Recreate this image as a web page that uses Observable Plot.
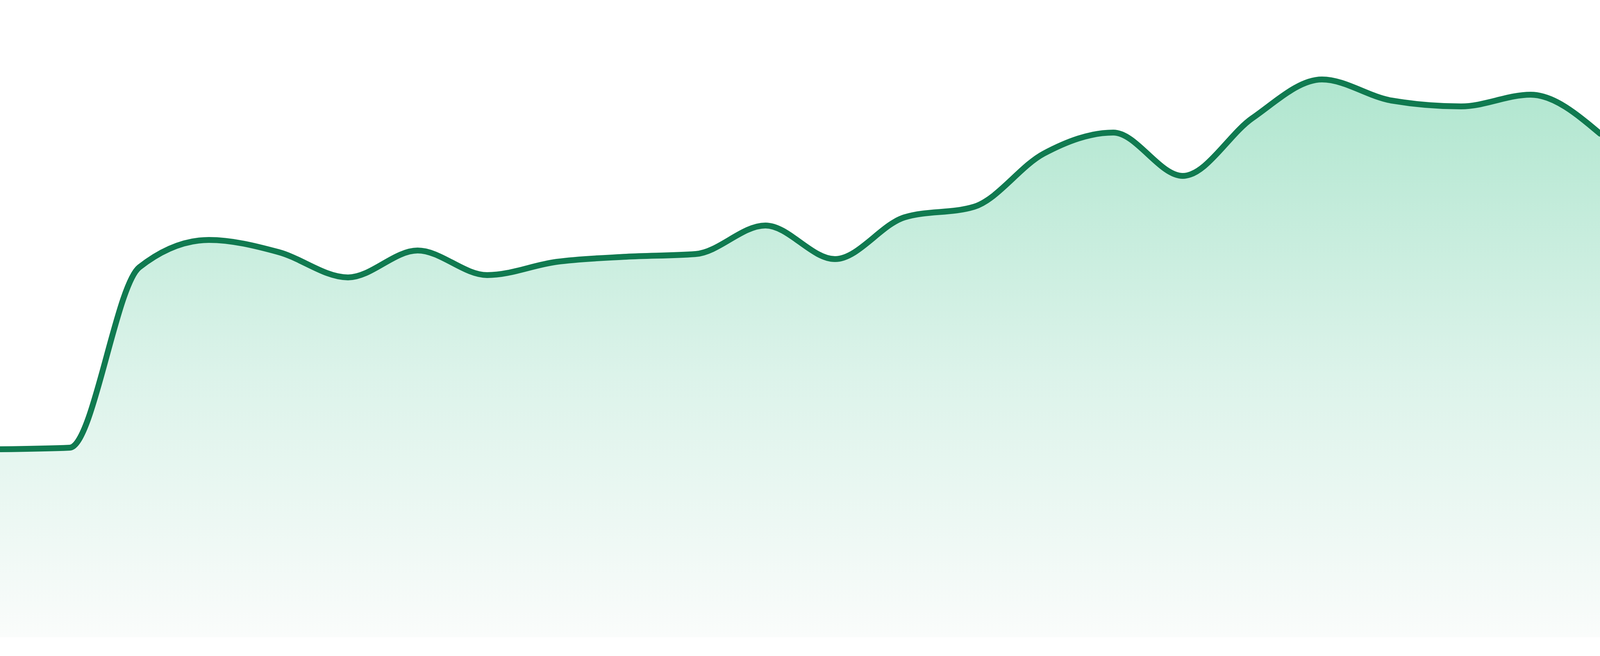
<!DOCTYPE html>
<html>
<head>
<meta charset="utf-8">
<script src="https://cdn.jsdelivr.net/npm/d3@7"></script>
<script src="https://cdn.jsdelivr.net/npm/@observablehq/plot@0.6"></script>
<style>
  html, body { margin: 0; padding: 0; background: #ffffff; overflow: hidden; }
  #chart svg { display: block; }
</style>
</head>
<body>
<div id="chart"></div>
<script>
// Period index (evenly spaced observations)
const periods = [0, 1, 2, 3, 4, 5, 6, 7, 8, 9, 10, 11, 12, 13, 14, 15, 16, 17, 18, 19, 20, 21, 22, 23];
// Series values
const values = [48.2, 48.6, 94.8, 101.8, 98.7, 92.2, 99.1, 92.8, 96.2, 97.5, 98.2, 105.5,
                96.9, 107.6, 110.3, 123.9, 129.3, 118.2, 133.0, 142.9, 137.5, 136.0, 139.0, 129.0];

const data = periods.map((p, i) => ({period: p, value: values[i]}));

const lineColor = "#107a50";
const gradStops = [
  {offset: "0%", color: "rgb(176,230,207)"},
  {offset: "53%", color: "rgb(220,243,234)"},
  {offset: "100%", color: "rgb(250,252,251)"}
];

const gradientDefs = () => {
  const defs = d3.create("svg:defs");
  const g = defs.append("linearGradient")
    .attr("id", "areaGrad")
    .attr("x1", 0).attr("y1", 0).attr("x2", 0).attr("y2", 1);
  for (const s of gradStops) g.append("stop").attr("offset", s.offset).attr("stop-color", s.color);
  return defs.node();
};

// Fill the whole viewport (nominally 4800 x 1680)
const W = document.documentElement.clientWidth || window.innerWidth || 4800;
const H = document.documentElement.clientHeight || window.innerHeight || 1680;
const k = H / 1680;

const chart = Plot.plot({
  width: W,
  height: H,
  marginTop: 0,
  marginRight: 0,
  marginLeft: 0,
  marginBottom: 48 * k,
  x: {axis: null, domain: [0, 23]},
  y: {axis: null, domain: [0, 163.2]},
  style: {background: "#ffffff", maxWidth: "none"},
  marks: [
    gradientDefs,
    Plot.areaY(data, {x: "period", y: "value", curve: "monotone-x", fill: "url(#areaGrad)"}),
    Plot.lineY(data, {x: "period", y: "value", curve: "monotone-x", stroke: lineColor, strokeWidth: 15 * k})
  ]
});
chart.style.width = W + "px";
chart.style.height = H + "px";
document.getElementById("chart").appendChild(chart);
</script>
</body>
</html>
